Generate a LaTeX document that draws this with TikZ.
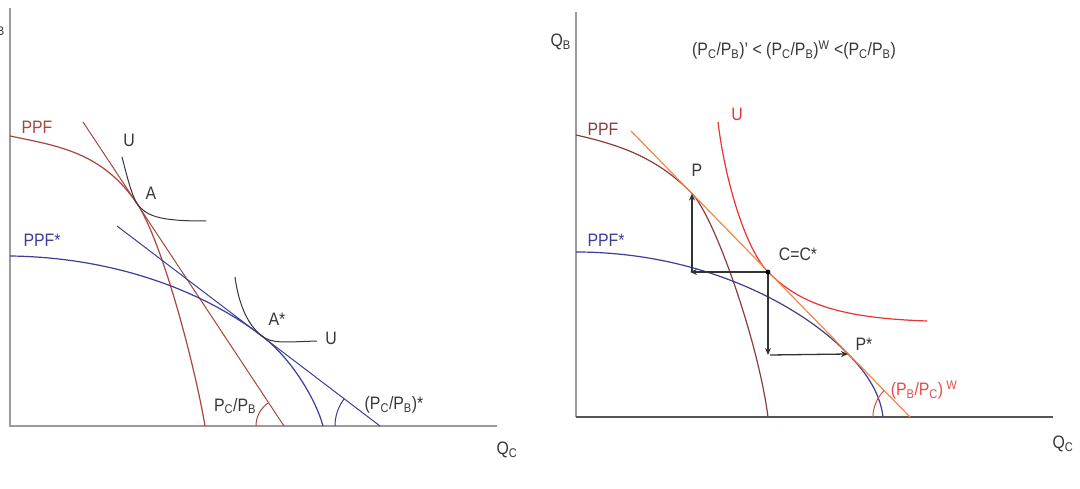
\documentclass[tikz,border=0pt]{standalone}
\usepackage{fontspec}
\setmainfont{Liberation Sans}[FakeStretch=0.88]
\usetikzlibrary{arrows.meta}
\definecolor{ppfred}{RGB}{168,70,62}
\definecolor{ppfbrown}{RGB}{140,62,62}
\definecolor{ppfblue}{RGB}{62,62,150}
\definecolor{ucol}{RGB}{55,55,55}
\definecolor{axisgrey}{RGB}{155,155,155}
\definecolor{axisdark}{RGB}{85,85,85}
\definecolor{lineorange}{RGB}{240,135,75}
\definecolor{ured}{RGB}{235,50,50}
\definecolor{labred}{RGB}{230,75,75}
\begin{document}
\begin{tikzpicture}[x=1pt,y=-1pt,
  lbl/.style={inner sep=0pt,font=\fontsize{18}{20}\selectfont,text=ucol},
  curve/.style={line width=1.2pt},
  flow/.style={line width=1.3pt,black!80,-{Stealth[length=7pt,width=6pt]}}]
\useasboundingbox (0,0) rectangle (1080,489);
\fill[white] (0,0) rectangle (1080,489);

% ---------------- left panel ----------------
\coordinate (LO) at (10,426);
\coordinate (LY) at (10,8);
\coordinate (LX) at (497,426);
\draw[axisgrey,line width=2pt] (LY) -- (LO) -- (LX);
\node[lbl,anchor=east] (lqb) at (5,28) {Q\textsubscript{B}};
\node[lbl] (lqc) at (507,450) {Q\textsubscript{C}};

\coordinate (A) at (137,203.5);
\coordinate (As) at (262,336);
% PPF
\draw[ppfred,curve] (10,136) .. controls (58,146) and (102,152) .. (A)
  .. controls (162,240.5) and (195,366) .. (205,426);
% price line
\coordinate (L1a) at (83,122);
\coordinate (L1b) at (284,426);
\draw[ppfred,line width=1pt] (L1a) -- (L1b);
% PPF*
\draw[ppfblue,curve] (10,256) .. controls (100,257) and (192,283) .. (As)
  .. controls (292,359) and (316,400) .. (323,426);
% price line *
\coordinate (L2a) at (117,226);
\coordinate (L2b) at (380,426);
\draw[ppfblue,line width=1pt] (L2a) -- (L2b);
% indifference curves
\draw[ucol,line width=1pt] (122,157) .. controls (126,172) and (131,194) .. (A)
  .. controls (147,218) and (165,221) .. (206,221);
\draw[ucol,line width=1pt] (235,277) .. controls (238,300) and (246,324) .. (As)
  .. controls (272,344) and (285,342) .. (317,341);
% angle arcs
\draw[ppfred,line width=1pt] (256,426) arc[start angle=180,end angle=236.5,radius=28];
\draw[ppfblue,line width=1pt] (335,426) arc[start angle=180,end angle=217.25,radius=45];

\node[lbl,text=ppfred] (lppf) at (37,127) {PPF};
\node[lbl,text=ppfblue] (lppfs) at (42,240) {PPF*};
\node[lbl] (lu1) at (129,140) {U};
\node[lbl] (la) at (151,193) {A};
\node[lbl] (las) at (277,319) {A*};
\node[lbl] (lu2) at (331,338) {U};
\node[lbl] (lpr1) at (235,406) {P\textsubscript{C}/P\textsubscript{B}};
\node[lbl] (lpr2) at (394,405) {(P\textsubscript{C}/P\textsubscript{B})*};

% ---------------- right panel ----------------
\coordinate (RO) at (576,417);
\coordinate (RY) at (576,12);
\coordinate (RX) at (1053,417);
\draw[axisgrey,line width=2pt] (RY) -- (RO);
\draw[axisdark,line width=2pt] (RO) -- (RX);
\node[lbl,anchor=east] (rqb) at (571,42) {Q\textsubscript{B}};
\node[lbl] (rqc) at (1063,444) {Q\textsubscript{C}};

\node[lbl] (title) at (794,50) {(P\textsubscript{C}/P\textsubscript{B})' {<} (P\textsubscript{C}/P\textsubscript{B})\textsuperscript{W} {<}(P\textsubscript{C}/P\textsubscript{B})};

\coordinate (P) at (692,193.5);
\coordinate (C) at (768,272);
\coordinate (Ps) at (848,354);
\coordinate (Pbot) at (692,272);
\coordinate (Cleft) at (690,272);
\coordinate (Cdown) at (768,355);
\coordinate (Cdl) at (770,355);

% PPF
\draw[ppfbrown,curve] (576,135) .. controls (620,145) and (657,157.5) .. (P)
  .. controls (714,216) and (758,340) .. (768,417);
% PPF*
\draw[ppfblue,curve] (576,252) .. controls (700,252) and (800,304) .. (Ps)
  .. controls (862,368) and (880,390) .. (883,417);
% U
\draw[ured,curve] (718,122) .. controls (725,180) and (745,248) .. (C)
  .. controls (800,304) and (840,318) .. (927,321);
% world price line
\coordinate (Oa) at (631,131);
\coordinate (Ob) at (910,417);
\draw[lineorange,curve] (Oa) -- (Ob);
% angle arc
\draw[labred,line width=1pt] (873,417) arc[start angle=180,end angle=225.7,radius=37];

% trade triangles
\draw[flow] (Pbot) -- (P);
\draw[flow] (C) -- (Cleft);
\draw[flow] (C) -- (Cdown);
\draw[flow] (Cdl) -- (Ps);
\fill[black] (C) circle[radius=2.4];

\node[lbl,text=ured] (ru) at (737,114) {U};
\node[lbl,text=ppfbrown] (rppf) at (603,129) {PPF};
\node[lbl,text=ppfblue] (rppfs) at (606,240) {PPF*};
\node[lbl] (rp) at (697,170) {P};
\node[lbl] (rc) at (798,254) {C=C*};
\node[lbl] (rps) at (864,344) {P*};
\node[lbl,text=labred] (rw) at (924,390) {(P\textsubscript{B}/P\textsubscript{C})\,\textsuperscript{W}};
\end{tikzpicture}
\end{document}
